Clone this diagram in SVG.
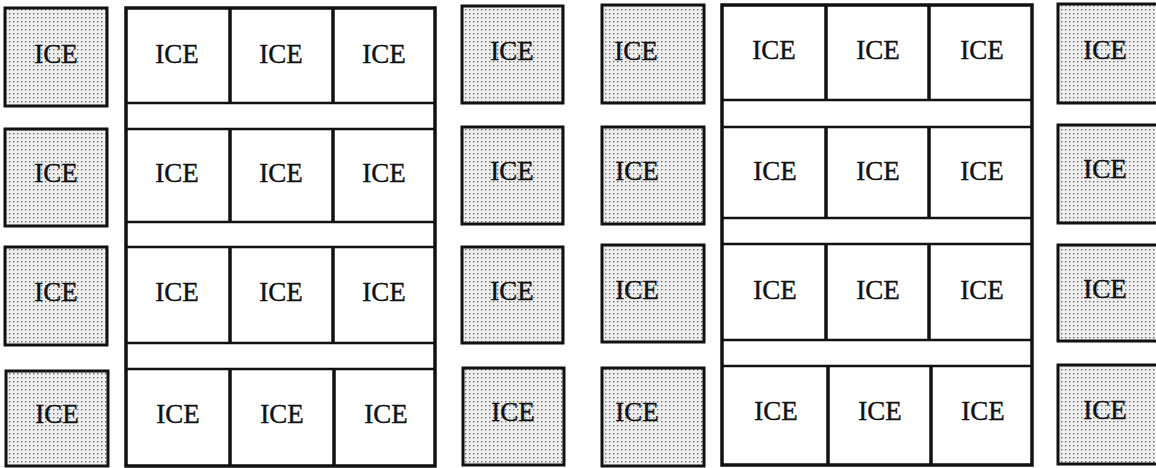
<svg xmlns="http://www.w3.org/2000/svg" width="1156" height="468" viewBox="0 0 1156 468">
<defs>
<pattern id="dots" width="4" height="4" patternUnits="userSpaceOnUse">
<rect width="4" height="4" fill="#efefef"/>
<rect x="1" y="1" width="1.4" height="1.4" fill="#6a6a6a"/>
</pattern>
</defs>
<style>
.g{fill:url(#dots);stroke:#111;stroke-width:3}
.frame{fill:#fff;stroke:#111;stroke-width:3.5}
.s{stroke:#111;stroke-width:2.5}
.d{stroke:#111;stroke-width:3.5}
.t{font-family:"Liberation Serif","Times New Roman",serif;font-size:27px;fill:#111;stroke:#111;stroke-width:0.4;text-anchor:middle}
</style>
<rect width="1156" height="468" fill="#fff"/>

<!-- gray column 1 -->
<g id="g1r1"><rect class="g" x="5" y="8" width="102" height="98"/><text class="t" x="56" y="63">ICE</text></g>
<g id="g1r2"><rect class="g" x="5" y="129" width="102" height="97"/><text class="t" x="56" y="182">ICE</text></g>
<g id="g1r3"><rect class="g" x="5" y="247" width="102" height="98"/><text class="t" x="56" y="301">ICE</text></g>
<g id="g1r4"><rect class="g" x="6" y="371" width="102" height="95"/><text class="t" x="57" y="423">ICE</text></g>

<!-- left frame -->
<g id="frameL">
<rect class="frame" x="126" y="8" width="309" height="458"/>
<line class="s" x1="126" y1="103" x2="435" y2="103"/>
<line class="s" x1="126" y1="129" x2="435" y2="129"/>
<line class="s" x1="126" y1="222" x2="435" y2="222"/>
<line class="s" x1="126" y1="247" x2="435" y2="247"/>
<line class="s" x1="126" y1="343" x2="435" y2="343"/>
<line class="s" x1="126" y1="369" x2="435" y2="369"/>
</g>
<g id="L11"><line class="d" x1="230" y1="8" x2="230" y2="103"/><text class="t" x="177" y="63">ICE</text></g>
<g id="L12"><line class="d" x1="333" y1="8" x2="333" y2="103"/><text class="t" x="281" y="63">ICE</text></g>
<g id="L13"><text class="t" x="384" y="63">ICE</text></g>
<g id="L21"><line class="d" x1="230" y1="129" x2="230" y2="222"/><text class="t" x="177" y="182">ICE</text></g>
<g id="L22"><line class="d" x1="333" y1="129" x2="333" y2="222"/><text class="t" x="281" y="182">ICE</text></g>
<g id="L23"><text class="t" x="384" y="182">ICE</text></g>
<g id="L31"><line class="d" x1="230" y1="247" x2="230" y2="343"/><text class="t" x="177" y="301">ICE</text></g>
<g id="L32"><line class="d" x1="333" y1="247" x2="333" y2="343"/><text class="t" x="281" y="301">ICE</text></g>
<g id="L33"><text class="t" x="384" y="301">ICE</text></g>
<g id="L41"><line class="d" x1="230" y1="369" x2="230" y2="466"/><text class="t" x="178" y="423">ICE</text></g>
<g id="L42"><line class="d" x1="334" y1="369" x2="334" y2="466"/><text class="t" x="282" y="423">ICE</text></g>
<g id="L43"><text class="t" x="386" y="423">ICE</text></g>

<!-- gray column 2 -->
<g id="g2r1"><rect class="g" x="462" y="6" width="101" height="97"/><text class="t" x="512" y="60">ICE</text></g>
<g id="g2r2"><rect class="g" x="462" y="127" width="101" height="97"/><text class="t" x="512" y="180">ICE</text></g>
<g id="g2r3"><rect class="g" x="462" y="247" width="101" height="96"/><text class="t" x="512" y="300">ICE</text></g>
<g id="g2r4"><rect class="g" x="463" y="368" width="101" height="97"/><text class="t" x="513" y="421">ICE</text></g>

<!-- gray column 3 -->
<g id="g3r1"><rect class="g" x="602" y="5" width="102" height="98"/><text class="t" x="636" y="60">ICE</text></g>
<g id="g3r2"><rect class="g" x="602" y="127" width="102" height="97"/><text class="t" x="637" y="180">ICE</text></g>
<g id="g3r3"><rect class="g" x="602" y="245" width="102" height="97"/><text class="t" x="637" y="299">ICE</text></g>
<g id="g3r4"><rect class="g" x="602" y="368" width="102" height="98"/><text class="t" x="637" y="421">ICE</text></g>

<!-- right frame -->
<g id="frameR">
<rect class="frame" x="722" y="5" width="310" height="460"/>
<line class="s" x1="722" y1="100" x2="1032" y2="100"/>
<line class="s" x1="722" y1="127" x2="1032" y2="127"/>
<line class="s" x1="722" y1="218" x2="1032" y2="218"/>
<line class="s" x1="722" y1="244" x2="1032" y2="244"/>
<line class="s" x1="722" y1="340" x2="1032" y2="340"/>
<line class="s" x1="722" y1="366" x2="1032" y2="366"/>
</g>
<g id="R11"><line class="d" x1="826" y1="5" x2="826" y2="100"/><text class="t" x="774" y="59">ICE</text></g>
<g id="R12"><line class="d" x1="929" y1="5" x2="929" y2="100"/><text class="t" x="878" y="59">ICE</text></g>
<g id="R13"><text class="t" x="982" y="59">ICE</text></g>
<g id="R21"><line class="d" x1="826" y1="127" x2="826" y2="218"/><text class="t" x="775" y="180">ICE</text></g>
<g id="R22"><line class="d" x1="929" y1="127" x2="929" y2="218"/><text class="t" x="878" y="180">ICE</text></g>
<g id="R23"><text class="t" x="982" y="180">ICE</text></g>
<g id="R31"><line class="d" x1="826" y1="244" x2="826" y2="340"/><text class="t" x="775" y="299">ICE</text></g>
<g id="R32"><line class="d" x1="929" y1="244" x2="929" y2="340"/><text class="t" x="878" y="299">ICE</text></g>
<g id="R33"><text class="t" x="982" y="299">ICE</text></g>
<g id="R41"><line class="d" x1="828" y1="366" x2="828" y2="465"/><text class="t" x="776" y="420">ICE</text></g>
<g id="R42"><line class="d" x1="931" y1="366" x2="931" y2="465"/><text class="t" x="880" y="420">ICE</text></g>
<g id="R43"><text class="t" x="983" y="420">ICE</text></g>

<!-- gray column 4 -->
<g id="g4r1"><rect class="g" x="1058" y="4" width="102" height="99"/><text class="t" x="1105" y="59">ICE</text></g>
<g id="g4r2"><rect class="g" x="1058" y="125" width="102" height="98"/><text class="t" x="1105" y="178">ICE</text></g>
<g id="g4r3"><rect class="g" x="1058" y="245" width="102" height="96"/><text class="t" x="1105" y="298">ICE</text></g>
<g id="g4r4"><rect class="g" x="1058" y="365" width="102" height="99"/><text class="t" x="1105" y="419">ICE</text></g>
</svg>
